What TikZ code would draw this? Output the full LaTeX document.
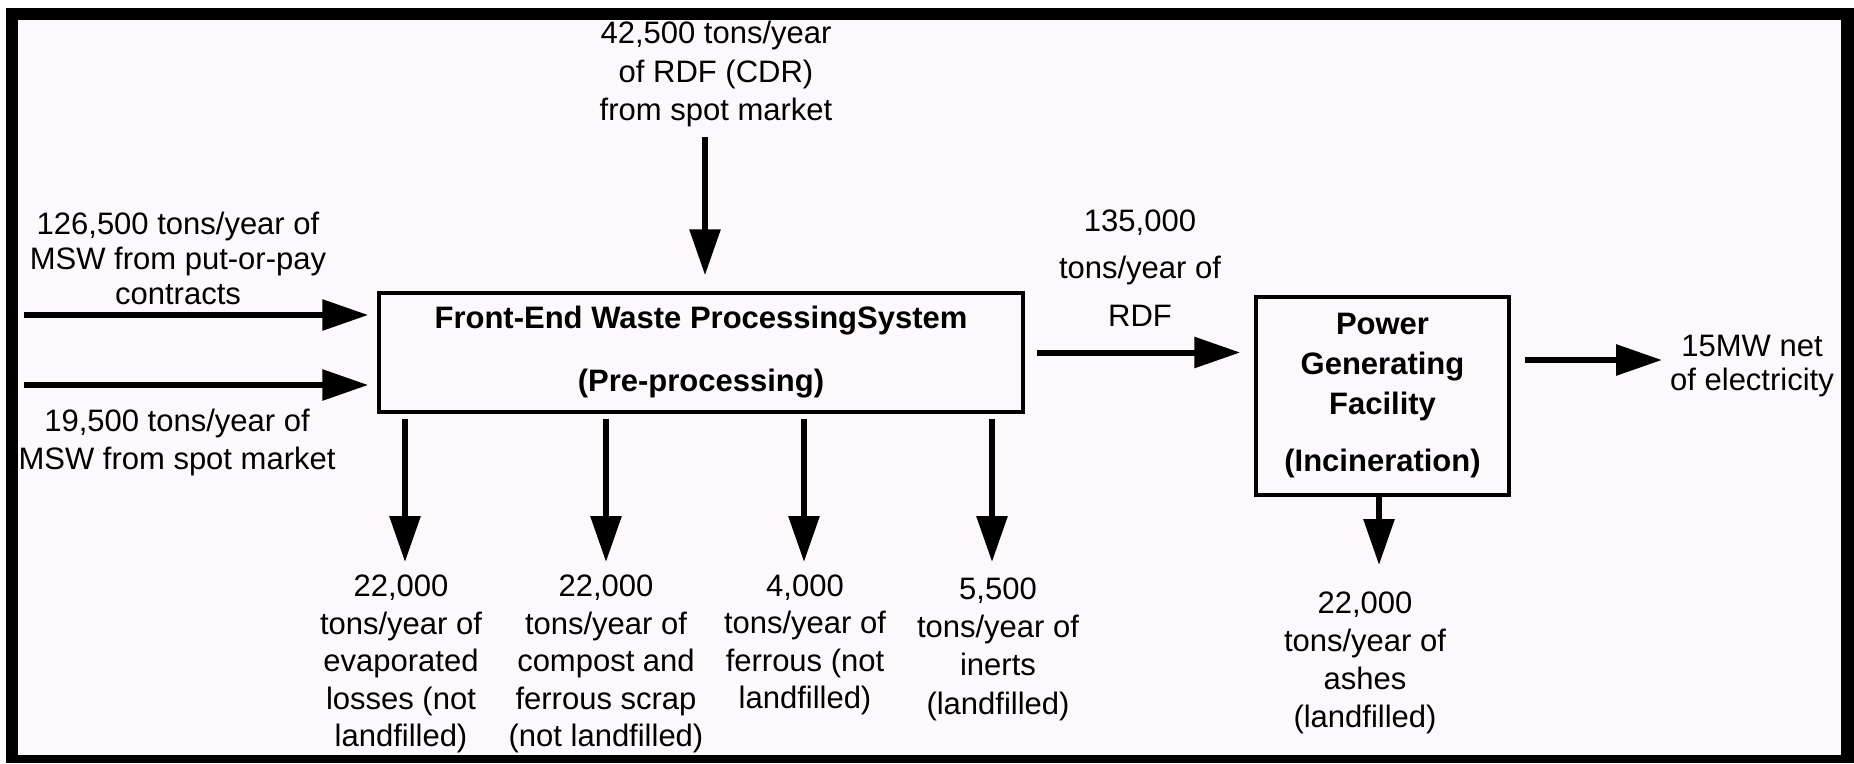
\documentclass[tikz,border=0pt]{standalone}
\usepackage{fontspec}
\setmainfont{Liberation Sans}
\usetikzlibrary{arrows.meta}
\definecolor{bgpink}{RGB}{252,248,252}
\begin{document}
\begin{tikzpicture}[x=1pt,y=-1pt,
  arr/.style={line width=6pt, -{Triangle[length=46pt,width=30pt]}},
  lbl/.style={align=center, inner sep=0pt, font=\fontsize{31}{37.5}\selectfont},
  boxa/.style={draw, line width=3.5pt, fill=bgpink, inner sep=0pt, align=center}
]
\useasboundingbox (0,0) rectangle (1854,763);
\fill[white] (0,0) rectangle (1854,763);
\fill[black] (6,8) rectangle (1854,763);
\fill[bgpink] (18,20) rectangle (1841,755);

% boxes
\node[boxa, minimum width=644pt, minimum height=119pt,
      font=\bfseries\fontsize{31}{37}\selectfont] (fe) at (701,352.5)
  {Front-End Waste ProcessingSystem\\[26pt](Pre-processing)};
\node[boxa, minimum width=253pt, minimum height=198pt,
      font=\bfseries\fontsize{31}{40}\selectfont] (pg) at (1382.5,396)
  {Power\\Generating\\Facility\\[17pt](Incineration)};

% top input
\node[lbl, font=\fontsize{31}{38.5}\selectfont] (top) at (716,74)
  {42,500 tons/year\\of RDF (CDR)\\from spot market};
\coordinate (ttop) at (705,137);
\draw[arr, shorten >=16pt] (ttop) -- (ttop |- fe.north);

% left inputs
\node[lbl, font=\fontsize{31}{35}\selectfont] (msw1) at (178,258)
  {126,500 tons/year of\\MSW from put-or-pay\\contracts};
\node[lbl, font=\fontsize{31}{38}\selectfont] (msw2) at (177,442)
  {19,500 tons/year of\\MSW from spot market};
\coordinate (l1) at (24,315);
\coordinate (l2) at (24,385);
\draw[arr, shorten >=9pt] (l1) -- (l1 -| fe.west);
\draw[arr, shorten >=9pt] (l2) -- (l2 -| fe.west);

% RDF to power plant
\node[lbl, font=\fontsize{31}{47.5}\selectfont] (rdf) at (1140,268)
  {135,000\\tons/year of\\RDF};
\draw[arr, shorten <=12pt, shorten >=14pt] (fe.east) -- (fe.east -| pg.west);

% electricity output
\coordinate (eo) at (1662,360);
\draw[arr, shorten <=14pt] (pg.east |- eo) -- (eo);
\node[lbl, font=\fontsize{31}{34}\selectfont] (elec) at (1752,366)
  {15MW net\\of electricity};

% outputs of front-end system
\coordinate (d1) at (405,562);
\coordinate (d2) at (606,562);
\coordinate (d3) at (804,562);
\coordinate (d4) at (992,562);
\draw[arr, shorten <=5pt] (fe.south -| d1) -- (d1);
\draw[arr, shorten <=5pt] (fe.south -| d2) -- (d2);
\draw[arr, shorten <=5pt] (fe.south -| d3) -- (d3);
\draw[arr, shorten <=5pt] (fe.south -| d4) -- (d4);
\node[lbl] (o1) at (401,664)
  {22,000\\tons/year of\\evaporated\\losses (not\\landfilled)};
\node[lbl] (o2) at (606,664)
  {22,000\\tons/year of\\compost and\\ferrous scrap\\(not landfilled)};
\node[lbl] (o3) at (805,645)
  {4,000\\tons/year of\\ferrous (not\\landfilled)};
\node[lbl, font=\fontsize{31}{38.3}\selectfont] (o4) at (998,649)
  {5,500\\tons/year of\\inerts\\(landfilled)};

% ashes
\coordinate (da) at (1379,565);
\draw[arr] (pg.south -| da) -- (da);
\node[lbl, font=\fontsize{31}{38}\selectfont] (ash) at (1365,663)
  {22,000\\tons/year of\\ashes\\(landfilled)};
\end{tikzpicture}
\end{document}
